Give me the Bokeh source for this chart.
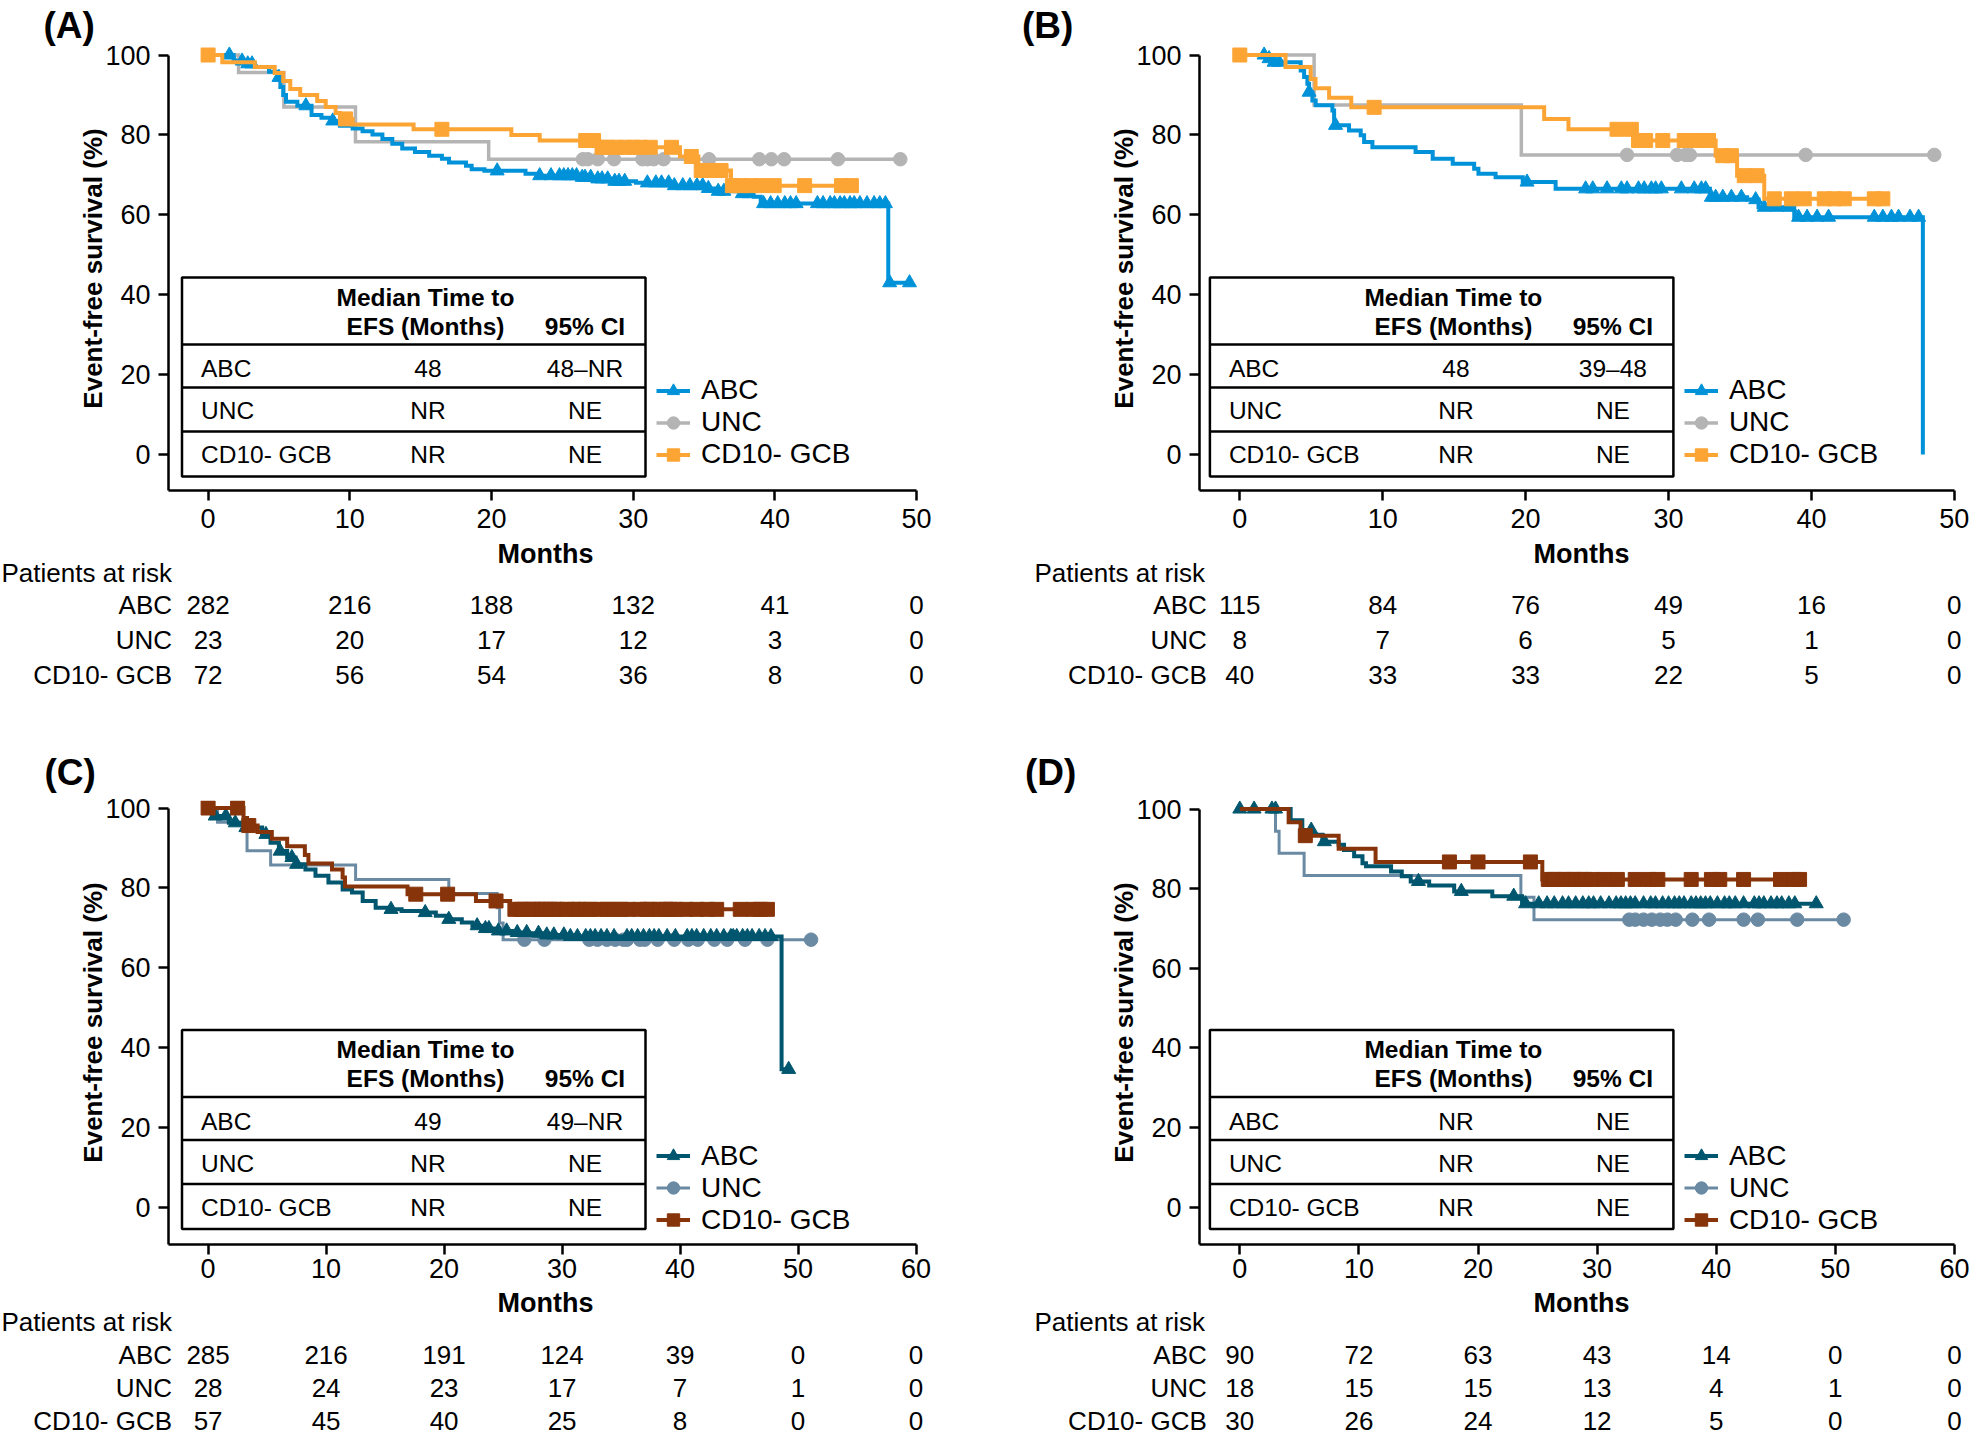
import numpy as np
from bokeh.plotting import figure
from bokeh.models import Range1d, FixedTicker, Legend, LegendItem
from bokeh.layouts import row, column
from bokeh.embed import file_html
from bokeh.resources import INLINE
from bokeh.core.properties import value

FONT = "Liberation Sans"

groups = ["ABC", "UNC", "CD10- GCB"]

# ======================= DATA =======================
# ---- Panel A ----
a_abc_t = [0, 1.8, 2.5, 3.3, 4.3, 4.9, 5.1, 5.3, 5.5, 6.3, 7.3, 8.0, 8.6, 9.3, 10.2, 10.9,
           11.6, 12.3, 13.0, 13.7, 14.6, 15.6, 16.5, 17.0, 18.2, 18.6, 19.5, 22.4, 23.4,
           26.3, 27.2, 28.5, 30.2, 32.9, 35.2, 35.7, 37.6, 38.5, 39.0, 48.0]
a_abc_s = [100, 98.5, 97.8, 97.0, 95.8, 94.4, 92.0, 90.0, 88.3, 87.3, 85.0, 84.3, 83.5,
           82.3, 81.6, 80.9, 80.1, 79.0, 77.8, 76.6, 75.7, 74.8, 74.0, 73.1, 72.3, 71.4,
           71.0, 70.3, 69.8, 69.4, 69.0, 68.4, 68.0, 67.3, 66.6, 65.9, 65.3, 64.5, 62.8, 43.0]
a_abc_c = [1.5, 2.4, 2.8, 3.1, 5.0, 6.9, 8.8, 20.4, 23.4, 24.2, 24.8, 25.1, 25.4, 25.7, 26.0,
           26.4, 26.6, 27.0, 27.5, 27.8, 28.2, 28.7, 29.0, 29.4, 31.0, 31.6, 32.0, 32.5, 32.9,
           33.5, 34.0, 34.5, 34.9, 35.3, 36.0, 36.4, 37.7, 38.2, 39.2, 39.7, 40.2, 40.7, 41.1,
           41.5, 43.0, 43.4, 43.9, 44.2, 44.6, 44.9, 45.3, 45.6, 46.0, 46.5, 47.0, 47.4, 47.8,
           48.1, 49.5]
a_unc_t = [0, 2.15, 5.35, 10.4, 19.8]
a_unc_s = [100, 95.65, 86.96, 78.26, 73.91]
a_unc_c = [26.45, 26.8, 27.5, 28.65, 30.65, 31.0, 31.45, 32.15, 35.35, 38.9, 39.75, 40.65,
           44.45, 48.85]
a_gcb_t = [0, 1.0, 3.3, 4.7, 5.3, 5.8, 6.5, 7.7, 8.3, 9.0, 9.3, 10.2, 14.5, 21.4, 23.4,
           27.6, 33.3, 34.6, 36.9]
a_gcb_s = [100, 98.2, 97.0, 95.5, 93.5, 91.5, 90.0, 88.5, 87.0, 85.5, 84.0, 82.6, 81.4,
           80.0, 78.6, 76.9, 74.6, 71.1, 67.3]
a_gcb_c = [0, 9.7, 16.5, 26.65, 27.2, 27.8, 28.2, 28.8, 29.4, 30.0, 30.5, 31.2, 32.7, 34.1,
           34.8, 35.4, 36.2, 37.0, 37.6, 38.3, 39.0, 39.95, 42.1, 44.7, 45.4]
a_risk_times = [0, 10, 20, 30, 40, 50]
a_risk_abc = [282, 216, 188, 132, 41, 0]
a_risk_unc = [23, 20, 17, 12, 3, 0]
a_risk_gcb = [72, 56, 54, 36, 8, 0]
a_median = ["48", "NR", "NR"]
a_ci = ["48\u2013NR", "NE", "NE"]

# ---- Panel B ----
b_abc_t = [0, 1.8, 2.3, 4.26, 4.5, 4.73, 4.85, 5.08, 5.31, 6.48, 6.6, 7.64, 8.46, 8.7, 9.28,
           12.3, 13.5, 14.9, 16.4, 16.7, 17.9, 19.8, 22.1, 32.9, 35.5, 36.3, 38.8, 47.8]
b_abc_s = [100, 99.1, 98.2, 96.1, 94.5, 92.8, 90.7, 88.6, 87.4, 86.1, 82.4, 81.1, 79.9,
           78.2, 76.9, 75.7, 74.0, 72.8, 71.5, 70.3, 69.4, 68.2, 66.5, 64.4, 63.8, 61.9,
           59.4, 0]
b_abc_c = [1.7, 2.05, 2.4, 2.75, 4.85, 6.7, 20.1, 24.2, 24.7, 25.7, 26.7, 27.1, 27.9, 28.3,
           28.8, 29.1, 29.5, 30.9, 31.8, 32.3, 32.6, 33.0, 33.3, 33.8, 34.4, 35.1, 36.1,
           36.7, 37.6, 38.5, 39.1, 39.7, 40.4, 41.2, 44.4, 45.0, 45.6, 46.1, 46.9, 47.5]
b_unc_t = [0, 5.2, 19.7]
b_unc_s = [100, 87.5, 75.0]
b_unc_c = [27.1, 30.6, 31.2, 31.5, 39.6, 48.6]
b_gcb_t = [0, 3.2, 4.96, 5.3, 6.25, 7.8, 21.3, 23.0, 27.6, 33.3, 34.8, 36.7]
b_gcb_s = [100, 97.0, 94.0, 91.7, 89.3, 86.9, 84.0, 81.4, 78.6, 74.8, 69.8, 64.0]
b_gcb_c = [0, 9.4, 26.4, 27.4, 27.9, 28.4, 29.6, 31.1, 31.6, 32.4, 32.8, 33.8, 34.4, 35.3,
           36.2, 37.4, 38.6, 39.5, 40.9, 41.6, 42.3, 44.4, 45.0]
b_risk_times = [0, 10, 20, 30, 40, 50]
b_risk_abc = [115, 84, 76, 49, 16, 0]
b_risk_unc = [8, 7, 6, 5, 1, 0]
b_risk_gcb = [40, 33, 33, 22, 5, 0]
b_median = ["48", "NR", "NR"]
b_ci = ["39\u201348", "NE", "NE"]

# ---- Panel C ----
c_abc_t = [0, 0.34, 1.76, 3.17, 4.58, 5.29, 6.0, 6.7, 7.4, 8.25, 9.1, 10.2, 11.4, 12.2,
           13.1, 14.2, 15.3, 16.4, 18.1, 19.3, 20.4, 21.5, 22.4, 23.5, 24.4, 25.8, 27.2,
           28.6, 30.3, 48.6]
c_abc_s = [100, 98.0, 96.3, 95.1, 93.4, 91.3, 89.2, 87.6, 85.9, 84.6, 83.0, 81.3, 79.6,
           78.8, 76.7, 75.0, 74.6, 74.2, 73.8, 73.0, 72.1, 71.3, 70.5, 69.8, 69.2, 68.8,
           68.6, 68.2, 67.8, 34.5]
c_abc_c = [0.6, 1.5, 2.3, 3.2, 4.9, 6.1, 7.1, 7.5, 15.5, 18.4, 20.4, 22.8, 23.5, 23.8,
           24.6, 25.3, 26.2, 27.0, 28.0, 28.7, 29.3, 30.15, 30.7, 31.3, 32.0, 32.4, 32.8,
           33.3, 33.8, 34.4, 35.5, 35.9, 36.4, 36.9, 37.4, 37.8, 38.2, 38.9, 39.6, 40.6,
           41.0, 41.4, 42.0, 42.6, 43.1, 43.7, 44.3, 44.5, 44.8, 45.3, 45.7, 46.1, 46.7,
           47.2, 47.7, 49.2]
c_unc_t = [0, 0.8, 3.3, 5.3, 12.5, 20.4, 24.5, 24.7, 25.0]
c_unc_s = [100, 96.4, 89.3, 85.7, 82.1, 78.6, 75.0, 71.2, 67.0]
c_unc_c = [26.8, 28.5, 32.3, 33.0, 33.8, 34.5, 35.2, 35.5, 36.6, 37.0, 38.1, 39.5, 40.7,
           41.5, 42.9, 44.0, 45.5, 47.4, 51.1]
c_gcb_t = [0, 3.0, 3.3, 4.2, 5.4, 6.7, 8.2, 8.5, 10.5, 11.4, 11.6, 16.9, 22.7, 25.6]
c_gcb_s = [100, 97.5, 95.6, 94.0, 92.3, 90.4, 88.2, 86.1, 84.6, 82.6, 80.3, 78.4, 76.7, 74.6]
c_gcb_c = [0, 2.5, 3.45, 17.6, 20.3, 24.4, 26.0, 26.5, 26.8, 27.2, 27.6, 28.0, 28.3, 28.6,
           29.0, 29.4, 29.7, 30.4, 31.0, 31.4, 32.0, 32.4, 33.2, 33.8, 34.4, 35.0, 35.6,
           36.6, 37.2, 37.5, 38.3, 38.8, 39.2, 39.6, 40.5, 41.4, 42.3, 43.1, 45.1, 46.2,
           46.8, 47.4]
c_risk_times = [0, 10, 20, 30, 40, 50, 60]
c_risk_abc = [285, 216, 191, 124, 39, 0, 0]
c_risk_unc = [28, 24, 23, 17, 7, 1, 0]
c_risk_gcb = [57, 45, 40, 25, 8, 0, 0]
c_median = ["49", "NR", "NR"]
c_ci = ["49\u2013NR", "NE", "NE"]

# ---- Panel D ----
d_abc_t = [0, 4.27, 5.25, 6.1, 6.93, 8.3, 8.75, 9.6, 10.3, 10.6, 12.7, 13.6, 14.35, 15.9,
           18.0, 21.2, 23.7]
d_abc_s = [100, 97.2, 94.7, 93.5, 91.8, 91.0, 89.7, 88.1, 86.4, 85.6, 84.3, 83.1, 81.8,
           80.8, 79.3, 78.1, 76.2]
d_abc_c = [0, 1.2, 2.7, 3.0, 6.0, 7.1, 15.0, 18.6, 23.0, 24.0, 25.1, 25.8, 26.4, 27.1,
           27.6, 28.2, 28.8, 29.3, 29.7, 30.3, 31.0, 31.6, 32.0, 32.4, 32.8, 33.2, 33.9,
           34.5, 34.9, 35.5, 36.0, 36.5, 36.9, 37.3, 37.9, 38.3, 38.7, 39.1, 39.5, 40.1,
           40.7, 41.1, 41.6, 42.3, 43.2, 43.6, 44.0, 44.6, 45.1, 45.5, 46.1, 46.6, 48.4]
d_unc_t = [0, 3.0, 3.3, 5.4, 23.6, 24.7]
d_unc_s = [100, 94.4, 88.9, 83.3, 77.8, 72.2]
d_unc_c = [32.7, 33.2, 33.9, 34.6, 35.3, 35.9, 36.6, 38.0, 39.4, 42.3, 43.5, 46.8, 50.7]
d_gcb_t = [0, 4.1, 5.1, 8.3, 11.4, 25.4]
d_gcb_s = [100, 96.7, 93.3, 90.0, 86.7, 82.3]
d_gcb_c = [5.5, 17.6, 20.0, 24.4, 25.9, 26.3, 26.5, 27.1, 27.4, 27.9, 28.2, 28.7, 29.0,
           29.6, 30.6, 31.7, 33.2, 34.4, 35.1, 37.9, 39.6, 40.3, 42.3, 45.4, 46.5, 47.0]
d_risk_times = [0, 10, 20, 30, 40, 50, 60]
d_risk_abc = [90, 72, 63, 43, 14, 0, 0]
d_risk_unc = [18, 15, 15, 13, 4, 1, 0]
d_risk_gcb = [30, 26, 24, 12, 5, 0, 0]
d_median = ["NR", "NR", "NR"]
d_ci = ["NE", "NE", "NE"]

# ======================= STYLE / LAYOUT =======================
COL_AB = {"ABC": "#0092D8", "UNC": "#B4B4B4", "CD10- GCB": "#FCA535"}
COL_CD = {"ABC": "#00566E", "UNC": "#6A8AA4", "CD10- GCB": "#87340A"}
MARK = {"ABC": ("triangle", 14), "UNC": ("circle", 13.5), "CD10- GCB": ("square", 14)}
LW = {"ABC": 4, "UNC": 3.5, "CD10- GCB": 4}

TOP = dict(top=0, main_h=536, ft=46, fb=490, risk_h=184, y0=454.0, title_so=2,
           rows=[572, 604, 639, 674], months_y=553, leg_mid=-32.0, tick_so=8)
BOT = dict(top=720, main_h=566, ft=800, fb=1244, risk_h=150, y0=1206.5, title_so=15,
           rows=[1321, 1354, 1387.5, 1420], months_y=1302, leg_mid=-19.0, tick_so=4)

panels = [
    dict(TOP, tag="(A)", series={"ABC": (a_abc_t, a_abc_s, a_abc_c),
                                 "UNC": (a_unc_t, a_unc_s, a_unc_c),
                                 "CD10- GCB": (a_gcb_t, a_gcb_s, a_gcb_c)},
         risk_t=a_risk_times, risk=[a_risk_abc, a_risk_unc, a_risk_gcb], med=a_median, ci=a_ci,
         colors=COL_AB, cl=0, W=986, fl=168, rb=63, x0=207.6, sx=14.17, sy=3.995, xmax=50,
         tl_off=13.5, lab_x=43, par_x=1, rl_off=3.5, months_x=545),
    dict(TOP, tag="(B)", series={"ABC": (b_abc_t, b_abc_s, b_abc_c),
                                 "UNC": (b_unc_t, b_unc_s, b_unc_c),
                                 "CD10- GCB": (b_gcb_t, b_gcb_s, b_gcb_c)},
         risk_t=b_risk_times, risk=[b_risk_abc, b_risk_unc, b_risk_gcb], med=b_median, ci=b_ci,
         colors=COL_AB, cl=986, W=987, fl=1199, rb=11, x0=1239.3, sx=14.29, sy=3.995, xmax=50,
         tl_off=10.4, lab_x=1021.5, par_x=1034, rl_off=7.3, months_x=1581),
    dict(BOT, tag="(C)", series={"ABC": (c_abc_t, c_abc_s, c_abc_c),
                                 "UNC": (c_unc_t, c_unc_s, c_unc_c),
                                 "CD10- GCB": (c_gcb_t, c_gcb_s, c_gcb_c)},
         risk_t=c_risk_times, risk=[c_risk_abc, c_risk_unc, c_risk_gcb], med=c_median, ci=c_ci,
         colors=COL_CD, cl=0, W=986, fl=168, rb=63, x0=207.6, sx=11.8, sy=3.99, xmax=60,
         tl_off=13.5, lab_x=44, par_x=1, rl_off=3.5, months_x=545),
    dict(BOT, tag="(D)", series={"ABC": (d_abc_t, d_abc_s, d_abc_c),
                                 "UNC": (d_unc_t, d_unc_s, d_unc_c),
                                 "CD10- GCB": (d_gcb_t, d_gcb_s, d_gcb_c)},
         risk_t=d_risk_times, risk=[d_risk_abc, d_risk_unc, d_risk_gcb], med=d_median, ci=d_ci,
         colors=COL_CD, cl=986, W=987, fl=1199, rb=11, x0=1239.3, sx=11.91, sy=3.98, xmax=60,
         tl_off=10.4, lab_x=1024.5, par_x=1034, rl_off=7.3, months_x=1581),
]


def step_xy(t, s, t_end):
    xs, ys = [t[0]], [s[0]]
    for i in range(1, len(t)):
        xs += [t[i], t[i]]
        ys += [s[i - 1], s[i]]
    xs.append(max(t_end, t[-1]))
    ys.append(s[-1])
    return xs, ys


def surv_at(t, s, c):
    idx = np.searchsorted(np.asarray(t), np.asarray(c), side="right") - 1
    return list(np.asarray(s)[idx])


def no_align(fig):
    try:
        fig.frame_align = False
    except Exception:
        pass


def plain_fig(W, H, xr, yr):
    q = figure(width=W, height=H, frame_width=W, frame_height=H,
               output_backend="svg", toolbar_location=None,
               x_range=xr, y_range=yr, x_axis_type=None, y_axis_type=None,
               min_border=0, min_border_left=0, min_border_right=0,
               min_border_top=0, min_border_bottom=0)
    q.outline_line_color = None
    q.background_fill_color = "white"
    q.border_fill_color = "white"
    no_align(q)
    return q


def build(P):
    X = lambda px: (px - P["x0"]) / P["sx"]
    Y = lambda py: (P["y0"] - py) / P["sy"]
    cl, W = P["cl"], P["W"]
    main_top = P["top"]
    main_bot = main_top + P["main_h"]

    # ---------------- main plot ----------------
    fr = cl + W - P["rb"]
    xs0, xs1 = X(P["fl"]), X(fr)
    ys0, ys1 = Y(P["fb"]), Y(P["ft"])
    p = figure(width=W, height=P["main_h"], output_backend="svg", toolbar_location=None,
               title=P["tag"],
               x_range=Range1d(xs0, xs1), y_range=Range1d(ys0, ys1),
               min_border_left=int(round(P["fl"] - cl)), min_border_right=P["rb"],
               min_border_top=int(round(P["ft"] - main_top)),
               min_border_bottom=int(round(main_bot - P["fb"])))
    no_align(p)
    p.outline_line_color = None
    p.grid.visible = False
    p.background_fill_color = "white"
    p.border_fill_color = "white"

    # panel tag as the plot title, shifted left of the frame
    p.title.text_font = FONT
    p.title.text_font_size = "37px"
    p.title.text_font_style = "bold"
    p.title.text_color = "black"
    p.title.align = "left"
    p.title.offset = P["lab_x"] - P["fl"]
    p.title.standoff = P["title_so"]

    xa = p.xaxis[0]
    ya = p.yaxis[0]
    xa.ticker = FixedTicker(ticks=list(range(0, P["xmax"] + 1, 10)))
    ya.ticker = FixedTicker(ticks=[0, 20, 40, 60, 80, 100])
    xa.bounds = (xs0, P["xmax"])
    ya.bounds = (ys0, 100)
    for ax in (xa, ya):
        ax.axis_line_width = 2.5
        ax.axis_line_color = "black"
        ax.major_tick_line_width = 2.5
        ax.major_tick_line_color = "black"
        ax.major_tick_out = 10
        ax.major_tick_in = 0
        ax.minor_tick_line_color = None
        ax.major_label_text_font = FONT
        ax.major_label_text_font_size = "27px"
        ax.major_label_text_color = "black"
        ax.axis_label_text_font = FONT
        ax.axis_label_text_font_style = "bold"
        ax.axis_label_text_color = "black"
    xa.major_label_standoff = P["tick_so"]
    ya.axis_label = "Event-free survival (%)"
    ya.axis_label_text_font_size = "26px"
    ya.major_label_standoff = 8
    ya.axis_label_standoff = -6

    # curves
    rends = {}
    for g in ["UNC", "ABC", "CD10- GCB"]:
        t, s, c = P["series"][g]
        col = P["colors"][g]
        xs, ys = step_xy(t, s, max(c) if len(c) else t[-1])
        lw = LW[g] if not (g == "UNC" and P["colors"] is COL_CD) else 3
        lr = p.line(xs, ys, line_color=col, line_width=lw, line_join="miter")
        mk, sz = MARK[g]
        sr = p.scatter(x=c, y=surv_at(t, s, c), marker=mk, size=sz,
                       fill_color=col, line_color=col, line_width=1)
        rends[g] = [lr, sr]

    # median table
    tl = P["fl"] + P["tl_off"]
    tr = tl + 463.5
    y0 = P["y0"]
    p.quad(left=[X(tl)], right=[X(tr)], top=[Y(y0 - 177)], bottom=[Y(y0 + 22)],
           fill_color=None, line_color="black", line_width=2.5)
    sep = [y0 - 110, y0 - 67, y0 - 23]
    p.segment(x0=[X(tl)] * 3, x1=[X(tr)] * 3, y0=[Y(v) for v in sep], y1=[Y(v) for v in sep],
              line_color="black", line_width=2.5)
    ry = [Y(y0 - 86), Y(y0 - 44), Y(y0)]
    tkw = dict(text_font=value(FONT), text_font_size=value("24.5px"), text_baseline="middle",
               text_color="black")
    p.text(x=[X(tl + 19)] * 3, y=ry, text=groups, text_align="left", **tkw)
    p.text(x=[X(tl + 246)] * 3, y=ry, text=P["med"], text_align="center", **tkw)
    p.text(x=[X(tl + 403)] * 3, y=ry, text=P["ci"], text_align="center", **tkw)
    p.text(x=[X(tl + 243.5)] * 2, y=[Y(y0 - 157.5), Y(y0 - 128.5)],
           text=["Median Time to", "EFS (Months)"], text_align="center",
           text_font_style=value("bold"), **tkw)
    p.text(x=[X(tl + 403)], y=[Y(y0 - 128.5)], text=["95% CI"], text_align="center",
           text_font_style=value("bold"), **tkw)

    # legend
    gw, gh, item_h = 34, 31, 32
    leg_left = tr + 28 - gw / 2
    leg_bottom = y0 + P["leg_mid"] + 1.5 * item_h
    legend = Legend(items=[LegendItem(label=g, renderers=rends[g]) for g in groups],
                    location=(leg_left - P["fl"], P["fb"] - leg_bottom),
                    orientation="vertical", glyph_width=gw, glyph_height=gh,
                    label_height=gh, label_standoff=11, spacing=0, padding=0, margin=0,
                    border_line_color=None, background_fill_alpha=0,
                    label_text_font=FONT, label_text_font_size="28px",
                    label_text_color="black")
    p.add_layout(legend)

    # ---------------- at-risk table ----------------
    rk = plain_fig(W, P["risk_h"], Range1d(X(cl), X(cl + W)),
                   Range1d(main_bot + P["risk_h"], main_bot))
    rk.text(x=[X(P["months_x"])], y=[P["months_y"]], text=["Months"], text_font=value(FONT),
            text_font_size=value("27px"), text_font_style=value("bold"),
            text_align="center", text_baseline="middle", text_color="black")
    rkw = dict(text_font=value(FONT), text_font_size=value("26px"), text_baseline="middle",
               text_color="black")
    rows_px = P["rows"]
    rk.text(x=[X(P["par_x"])], y=[rows_px[0]], text=["Patients at risk"],
            text_align="left", **rkw)
    rk.text(x=[X(P["fl"] + P["rl_off"])] * 3, y=rows_px[1:], text=groups,
            text_align="right", **rkw)
    for gi in range(3):
        vals = P["risk"][gi]
        rk.text(x=P["risk_t"], y=[rows_px[gi + 1]] * len(vals), text=[str(v) for v in vals],
                text_align="center", **rkw)

    return column(p, rk)


cols = [build(P) for P in panels]
layout = column(row(cols[0], cols[1]), row(cols[2], cols[3]))

open("out.html", "w").write(file_html(layout, INLINE))
